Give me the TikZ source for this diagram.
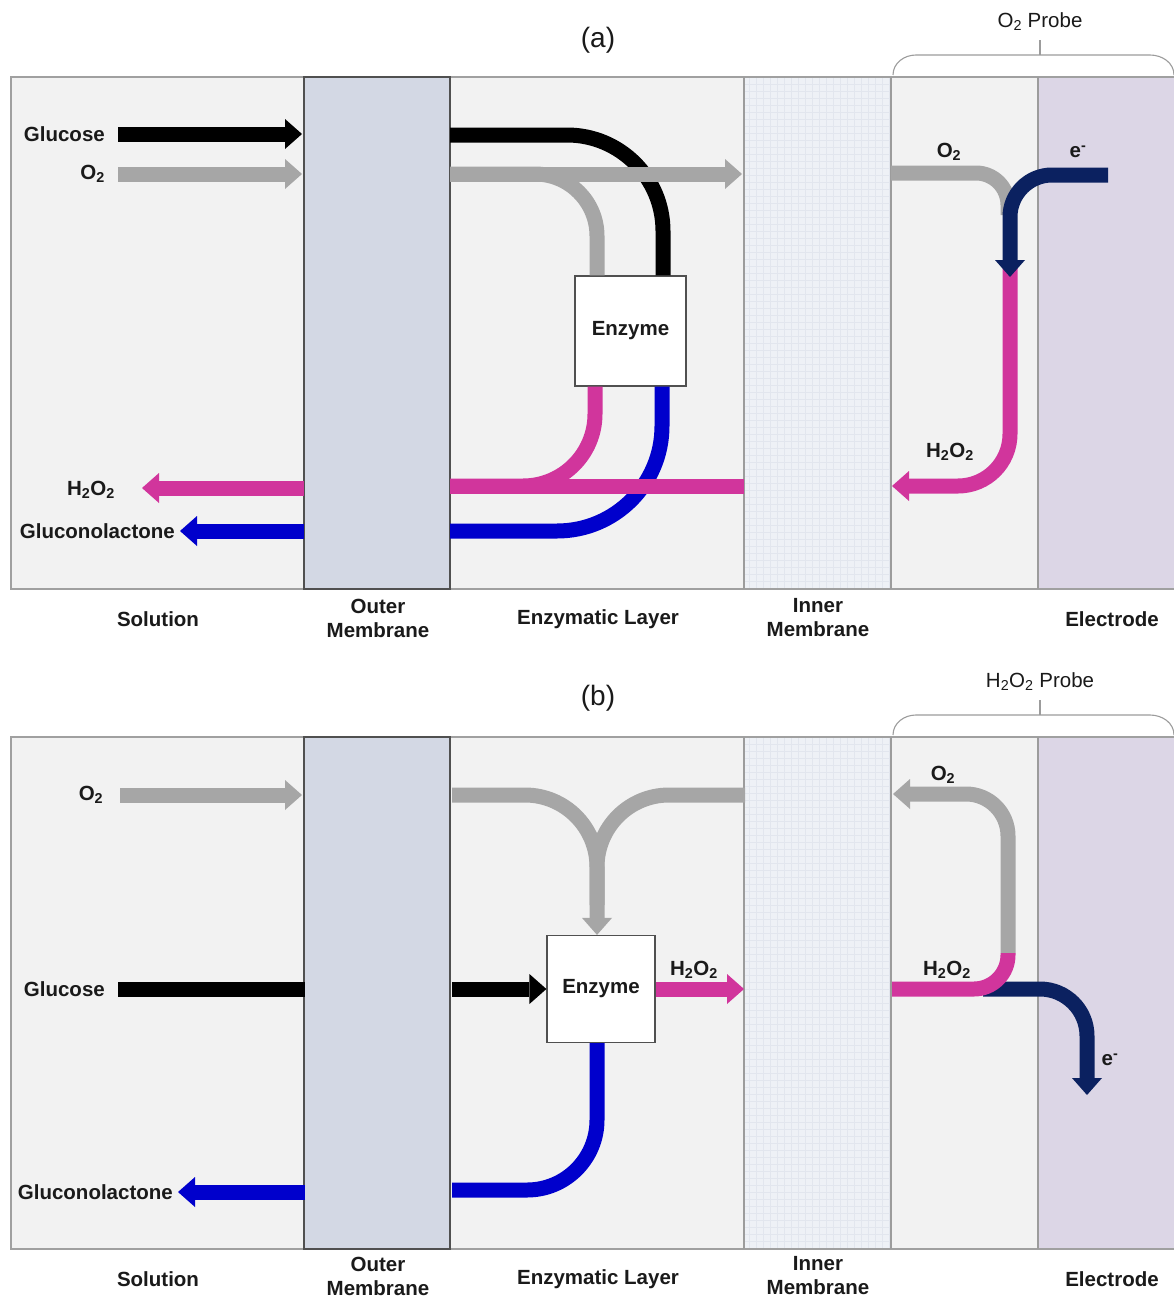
\documentclass[tikz,border=0pt]{standalone}
\usepackage{fontspec}
\setmainfont{Liberation Sans}
\usetikzlibrary{arrows.meta}
\definecolor{panelbg}{HTML}{F2F2F2}
\definecolor{framec}{HTML}{A0A0A0}
\definecolor{outerfill}{HTML}{D3D8E4}
\definecolor{outerdraw}{HTML}{505050}
\definecolor{innerfill}{HTML}{EEF1F6}
\definecolor{gridc}{HTML}{E2E6EE}
\definecolor{electrodec}{HTML}{DCD6E6}
\definecolor{dividerc}{HTML}{9C9C9C}
\definecolor{grayarr}{HTML}{A6A6A6}
\definecolor{magc}{HTML}{D1359C}
\definecolor{bluc}{HTML}{0000CC}
\definecolor{navyc}{HTML}{0B2160}
\definecolor{txtc}{HTML}{1A1A1A}
\tikzset{
  tipx/.tip={Triangle[width=30pt,length=17pt,line width=0pt]},
  flow/.style={line width=15pt},
  glu/.style={flow,draw=black},
  oxy/.style={flow,draw=grayarr},
  hpo/.style={flow,draw=magc},
  gcl/.style={flow,draw=bluc},
  ele/.style={flow,draw=navyc},
  lbl/.style={font=\bfseries\fontsize{20.5}{24}\selectfont,text=txtc,inner sep=0pt},
  reglbl/.style={lbl,align=center},
  enzbox/.style={draw=outerdraw,line width=1.2pt,fill=white,inner sep=0pt,font=\bfseries\fontsize{20.5}{25}\selectfont,text=txtc},
  outerm/.style={draw=outerdraw,line width=1.2pt,fill=outerfill,inner sep=0pt,minimum width=146pt,minimum height=512pt},
  probetxt/.style={font=\fontsize{20.5}{25}\selectfont,text=txtc,inner sep=0pt},
  paneltitle/.style={font=\fontsize{28}{32}\selectfont,text=txtc,inner sep=0pt},
}
\newcommand{\hto}{H\textsubscript{2}O\textsubscript{2}}
\newcommand{\oxtwo}{O\textsubscript{2}}
\newcommand{\elec}{e\textsuperscript{-}}
\begin{document}
\begin{tikzpicture}[x=1pt,y=-1pt]
\useasboundingbox (0,0) rectangle (1174,1298);
\fill[white] (0,0) rectangle (1174,1298);
% ---------- backgrounds of both panels ----------
\foreach \dy/\pn/\ly in {0/a/618,660/b/616}{
  \begin{scope}[shift={(0,\dy)}]
    \fill[panelbg] (11,77) rectangle (1174,589);
    \fill[innerfill] (744,77) rectangle (891,589);
    \draw[gridc,line width=0.4pt,step=7pt] (744,77) grid (891,589);
    \fill[electrodec] (1038,77) rectangle (1174,589);
    \draw[framec,line width=1.5pt] (1174,77) -- (11,77) -- (11,589) -- (1174,589);
    \draw[dividerc,line width=1.2pt] (744,77) -- (744,589) (891,77) -- (891,589) (1038,77) -- (1038,589);
    \node[outerm] (om\pn) at (377,333) {};
    % brace
    \draw[dividerc,line width=1.1pt] (893,75) to[out=90,in=180] (916,55) -- (1150,55) to[out=0,in=90] (1174,75);
    \draw[dividerc,line width=1.1pt] (1040,55) -- (1040,40);
    % region labels
    \node[reglbl] (sol\pn) at (158,619) {Solution};
    \node[reglbl] (oml\pn) at (378,\ly) {Outer\\Membrane};
    \node[reglbl] (enl\pn) at (598,619) {Enzymatic Layer};
    \node[reglbl] (iml\pn) at (818,\ly) {Inner\\Membrane};
    \node[reglbl] (ell\pn) at (1112,619) {Electrode};
  \end{scope}
}
\node[paneltitle] (ta) at (598,40) {(a)};
\node[paneltitle] (tb) at (598,698) {(b)};
\node[probetxt] (pa) at (1040,22) {\oxtwo{} Probe};
\node[probetxt] (pb) at (1040,682) {\hto{} Probe};

% ================= panel (a) =================
\node[enzbox,minimum width=111pt,minimum height=110pt] (enzA) at (630.5,331) {Enzyme};
% solution
\draw[glu,-tipx] (118,134) -- (302,134);
\draw[oxy,-tipx] (118,174) -- (302,174);
\draw[hpo,-tipx] (304,488) -- (142,488);
\draw[gcl,-tipx] (304,531) -- (180,531);
\node[lbl,anchor=east] (lgluA) at (105,134) {Glucose};
\node[lbl,anchor=east] (loxA) at (105,174) {\oxtwo};
\node[lbl] (lhA) at (91,490) {\hto};
\node[lbl,anchor=east] (lgclA) at (175,531) {Gluconolactone};
% enzymatic layer
\draw[glu,rounded corners=96pt] (450,135) -| (enzA.north -| 663,0);
\draw[oxy,rounded corners=62pt] (450,174) -| (enzA.north -| 597,0);
\draw[oxy,-tipx] (450,174) -- (742,174);
\draw[gcl,rounded corners=105pt] (enzA.south -| 662,0) |- (450,531);
\draw[hpo,rounded corners=72pt] (enzA.south -| 595,0) |- (450,486);
\draw[hpo] (744,486) -- (450,486);
% probe
\draw[oxy,rounded corners=32pt] (891,173) -| (1008,215);
\draw[hpo,rounded corners=52pt,-tipx] (1010,268) |- (892,486);
\draw[ele,rounded corners=42pt,-tipx] (1108,175) -| (1010,277);
\node[lbl] (lo2pA) at (949,152) {\oxtwo};
\node[lbl] (lepA) at (1078,152) {\elec};
\node[lbl] (lhpA) at (950,452) {\hto};

% ================= panel (b) =================
\node[enzbox,minimum width=108pt,minimum height=107pt] (enzB) at (601,989) {Enzyme};
% solution
\draw[oxy,-tipx] (120,795) -- (302,795);
\draw[glu] (118,989) -- (305,989);
\draw[gcl,-tipx] (305,1192) -- (178,1192);
\node[lbl] (loxB) at (91,795) {\oxtwo};
\node[lbl,anchor=east] (lgluB) at (105,989) {Glucose};
\node[lbl,anchor=east] (lgclB) at (173,1192) {Gluconolactone};
% enzymatic layer
\draw[oxy,rounded corners=72pt] (745,795) -| (597,905);
\draw[oxy,rounded corners=72pt,-tipx] (452,795) -| (enzB.north -| 597,0);
\draw[glu,-tipx] (452,989) -- (enzB.west);
\draw[hpo,-tipx] (enzB.east) -- (744,989);
\draw[gcl,rounded corners=70pt] (enzB.south -| 597,0) |- (452,1190);
\node[lbl] (lhB) at (694,970) {\hto};
% probe
\draw[oxy,rounded corners=42pt,-tipx] (1008,953) |- (893,794);
\draw[ele,rounded corners=47pt,-tipx] (983,989) -| (1087,1095);
\draw[hpo,rounded corners=34pt] (892,989) -| (1008,953);
\node[lbl] (lo2pB) at (943,775) {\oxtwo};
\node[lbl] (lhpB) at (947,970) {\hto};
\node[lbl] (lepB) at (1110,1060) {\elec};
\end{tikzpicture}
\end{document}
